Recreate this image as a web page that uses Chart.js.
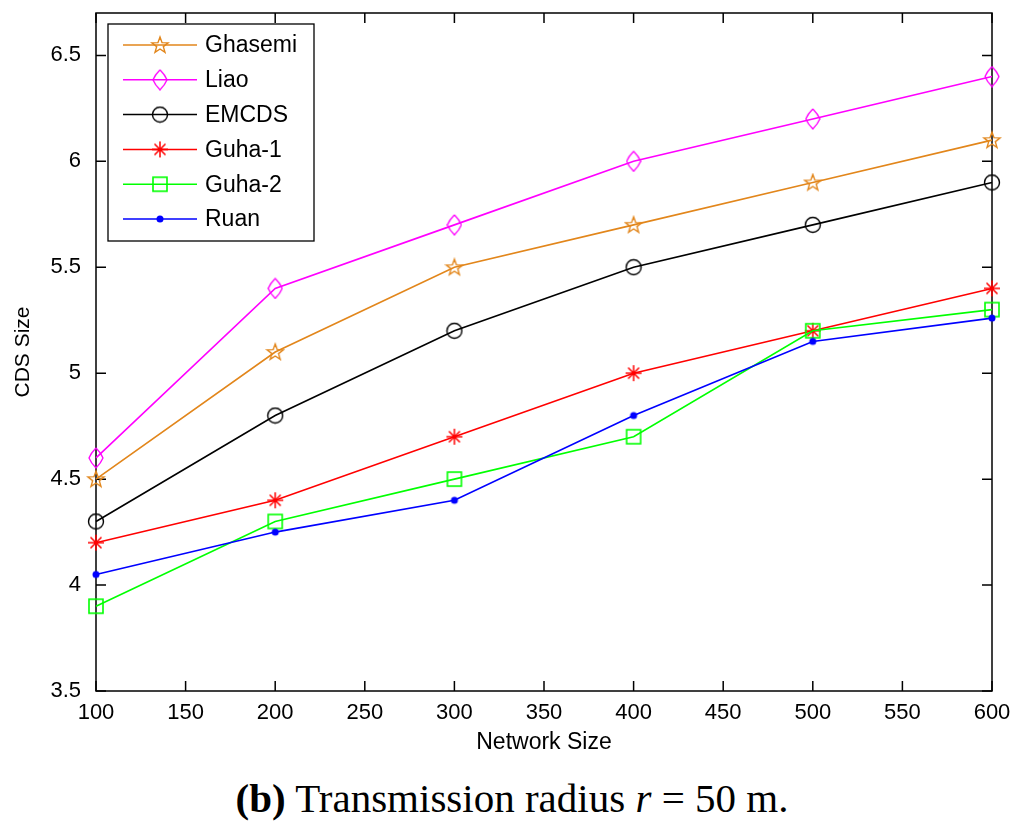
<!DOCTYPE html>
<html>
<head>
<meta charset="utf-8">
<script src="https://cdn.jsdelivr.net/npm/chart.js@4/dist/chart.umd.min.js"></script>
<style>
  body { margin: 0; background: #fff; width: 1024px; height: 832px; overflow: hidden; }
  #wrap { position: relative; width: 1024px; height: 760px; }
  #caption { position: absolute; left: 0; top: 774px; width: 1024px; text-align: center;
             font-family: "Liberation Serif", "DejaVu Serif", serif; font-size: 41px; color: #000; }
</style>
</head>
<body>
<div id="wrap"><canvas id="cds" width="1024" height="760"></canvas></div>
<div id="caption"><b>(b)</b> Transmission radius <i>r</i> = 50 m.</div>
<script>
// data
const networkSizes = [100, 200, 300, 400, 500, 600];
const ghasemi = [4.5, 5.1, 5.5, 5.7, 5.9, 6.1];
const liao    = [4.6, 5.4, 5.7, 6.0, 6.2, 6.4];
const emcds   = [4.3, 4.8, 5.2, 5.5, 5.7, 5.9];
const guha1   = [4.2, 4.4, 4.7, 5.0, 5.2, 5.4];
const guha2   = [3.9, 4.3, 4.5, 4.7, 5.2, 5.3];
const ruan    = [4.05, 4.25, 4.4, 4.8, 5.15, 5.26];

const xTickValues = [100, 150, 200, 250, 300, 350, 400, 450, 500, 550, 600];
const yTickValues = [3.5, 4, 4.5, 5, 5.5, 6, 6.5];

// marker images (matlab style, hollow)
function marker(w, h, draw) {
    const c = document.createElement('canvas');
    c.width = w; c.height = h;
    const g = c.getContext('2d');
    draw(g, w, h);
    return c;
}
const pentagram = marker(20, 20, (g) => {
    g.strokeStyle = '#E2861B'; g.lineWidth = 1.4;
    g.beginPath();
    for (let i = 0; i < 10; i++) {
        const r = i % 2 === 0 ? 8.5 : 3.5;
        const a = -Math.PI / 2 + i * Math.PI / 5;
        const px = 10 + r * Math.cos(a), py = 10.5 + r * Math.sin(a);
        i === 0 ? g.moveTo(px, py) : g.lineTo(px, py);
    }
    g.closePath(); g.stroke();
});
const diamond = marker(16, 22, (g) => {
    g.strokeStyle = '#FF00FF'; g.lineWidth = 1.3;
    g.beginPath();
    g.moveTo(8, 1);
    g.quadraticCurveTo(13, 6, 15, 11);
    g.quadraticCurveTo(13, 16, 8, 21);
    g.quadraticCurveTo(3, 16, 1, 11);
    g.quadraticCurveTo(3, 6, 8, 1);
    g.stroke();
});
const circle = marker(18, 18, (g) => {
    g.strokeStyle = '#000'; g.lineWidth = 1.4;
    g.beginPath(); g.arc(9, 9, 7.5, 0, Math.PI * 2); g.stroke();
});
const asterisk = marker(18, 18, (g) => {
    g.strokeStyle = '#FF0000'; g.lineWidth = 1.5;
    g.beginPath();
    g.moveTo(9, 1); g.lineTo(9, 17);
    g.moveTo(1, 9); g.lineTo(17, 9);
    g.moveTo(3.5, 3.5); g.lineTo(14.5, 14.5);
    g.moveTo(14.5, 3.5); g.lineTo(3.5, 14.5);
    g.stroke();
});
const square = marker(18, 18, (g) => {
    g.strokeStyle = '#00FF00'; g.lineWidth = 1.6;
    g.strokeRect(2, 2, 14, 14);
});
const dot = marker(10, 10, (g) => {
    g.fillStyle = '#0000FF';
    g.beginPath(); g.arc(5, 5, 3.5, 0, Math.PI * 2); g.fill();
});

const series = [
    { label: 'Ghasemi', data: ghasemi, color: '#E2861B', mark: pentagram },
    { label: 'Liao',    data: liao,    color: '#FF00FF', mark: diamond },
    { label: 'EMCDS',   data: emcds,   color: '#000000', mark: circle },
    { label: 'Guha-1',  data: guha1,   color: '#FF0000', mark: asterisk },
    { label: 'Guha-2',  data: guha2,   color: '#00FF00', mark: square },
    { label: 'Ruan',    data: ruan,    color: '#0000FF', mark: dot },
];

const font = 'Liberation Sans, Arial, sans-serif';

// box around the axes with inward ticks on all four sides
const axesBox = {
    id: 'axesBox',
    beforeDatasetsDraw(chart) {
        const { ctx, chartArea: a, scales } = chart;
        ctx.save();
        ctx.strokeStyle = '#000';
        ctx.lineWidth = 1.5;
        ctx.strokeRect(a.left, a.top, a.right - a.left, a.bottom - a.top);
        ctx.beginPath();
        xTickValues.forEach(v => {
            const px = scales.x.getPixelForValue(v);
            ctx.moveTo(px, a.bottom); ctx.lineTo(px, a.bottom - 10);
            ctx.moveTo(px, a.top); ctx.lineTo(px, a.top + 10);
        });
        yTickValues.forEach(v => {
            const py = scales.y.getPixelForValue(v);
            ctx.moveTo(a.left, py); ctx.lineTo(a.left + 10, py);
            ctx.moveTo(a.right, py); ctx.lineTo(a.right - 10, py);
        });
        ctx.stroke();
        ctx.restore();
    }
};

// matlab like legend in the upper left corner
const boxLegend = {
    id: 'boxLegend',
    afterDraw(chart) {
        const { ctx, chartArea: a } = chart;
        const x0 = a.left + 12, y0 = a.top + 11, w = 206, h = 217;
        ctx.save();
        ctx.fillStyle = '#fff';
        ctx.fillRect(x0, y0, w, h);
        ctx.strokeStyle = '#000';
        ctx.lineWidth = 1.3;
        ctx.strokeRect(x0, y0, w, h);
        ctx.font = '23px ' + font;
        ctx.textBaseline = 'middle';
        series.forEach((s, i) => {
            const cy = y0 + 21 + i * 34.8;
            ctx.strokeStyle = s.color;
            ctx.lineWidth = 1.5;
            ctx.beginPath();
            ctx.moveTo(x0 + 15, cy); ctx.lineTo(x0 + 89, cy);
            ctx.stroke();
            ctx.drawImage(s.mark, x0 + 52 - s.mark.width / 2, cy - s.mark.height / 2);
            ctx.fillStyle = '#000';
            ctx.fillText(s.label, x0 + 97, cy + 1);
        });
        ctx.restore();
    }
};

new Chart(document.getElementById('cds'), {
    type: 'line',
    data: {
        datasets: series.map((s, i) => ({
            label: s.label,
            data: networkSizes.map((n, k) => ({ x: n, y: s.data[k] })),
            borderColor: s.color,
            backgroundColor: s.color,
            borderWidth: 1.6,
            pointStyle: s.mark,
            pointRadius: 8,
            tension: 0,
            fill: false,
            clip: false,
            order: series.length - i,
        })),
    },
    options: {
        responsive: false,
        animation: false,
        devicePixelRatio: 1,
        layout: { padding: { top: 13, right: 32, left: 0, bottom: 0 } },
        scales: {
            x: {
                type: 'linear',
                min: 100,
                max: 600,
                afterBuildTicks: (s) => { s.ticks = xTickValues.map(v => ({ value: v })); },
                afterFit: (s) => { s.height = 69; s.paddingLeft = 0; s.paddingRight = 0; },
                grid: { display: false },
                border: { display: false },
                ticks: { color: '#000', font: { family: font, size: 22 }, padding: 1, maxRotation: 0,
                         callback: (v) => String(v) },
                title: { display: true, text: 'Network Size', color: '#000',
                         font: { family: font, size: 23 }, padding: { top: 0, bottom: 4 } },
            },
            y: {
                min: 3.5,
                max: 6.7,
                afterBuildTicks: (s) => { s.ticks = yTickValues.map(v => ({ value: v })); },
                afterFit: (s) => { s.width = 96; s.paddingTop = 0; s.paddingBottom = 0; },
                grid: { display: false },
                border: { display: false },
                ticks: { color: '#000', font: { family: font, size: 22 }, padding: 7,
                         callback: (v) => String(v) },
                title: { display: true, text: 'CDS Size', color: '#000',
                         font: { family: font, size: 21 }, padding: { top: 11, bottom: 0 } },
            },
        },
        plugins: {
            legend: { display: false },
            tooltip: { enabled: false },
        },
    },
    plugins: [axesBox, boxLegend],
});
</script>
</body>
</html>
